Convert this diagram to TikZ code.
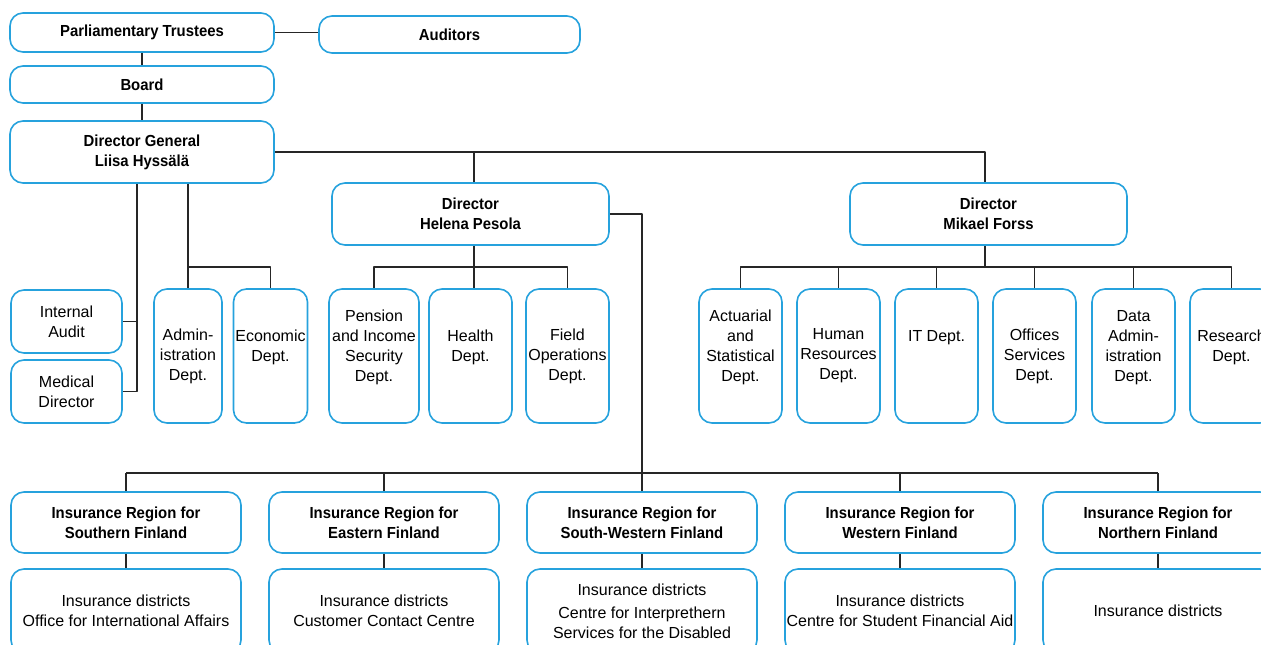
\documentclass[tikz,border=0pt]{standalone}
\usepackage{fontspec}
\setmainfont{Liberation Sans}[BoldFeatures={FakeStretch=0.93}]
\usetikzlibrary{positioning}

\definecolor{kelablue}{RGB}{38,162,221}

\tikzset{
    box/.style={draw=kelablue, line width=1.6pt, rounded corners=13pt, inner sep=0pt,
        align=center, text=black, font=\fontsize{16}{20}\selectfont},
    headbox/.style={box, font=\bfseries\fontsize{16}{20}\selectfont},
    dept/.style={box, minimum width=#1, minimum height=134pt},
    region/.style={headbox, minimum width=230pt, minimum height=61pt},
    district/.style={box, minimum width=230pt, minimum height=84pt},
    link/.style={draw=black!85, line width=1.1pt},
}

\begin{document}
\begin{tikzpicture}[x=1pt, y=-1pt, line join=round]

    \useasboundingbox (0,0) rectangle (1261,645);
    \clip (0,0) rectangle (1261,645);

    % top of the chart
    \node[headbox, minimum width=264pt, minimum height=39pt] (trustees) at (142,32.5) {Parliamentary Trustees};
    \node[headbox, minimum width=261pt, minimum height=37pt] (auditors) at (449.5,34.5) {Auditors};
    \node[headbox, minimum width=264pt, minimum height=37pt] (board) at (142,84.5) {Board};
    \node[headbox, minimum width=264pt, minimum height=62pt] (dg) at (142,152) {Director General\\Liisa Hyssälä};

    % the two directors
    \node[headbox, minimum width=277pt, minimum height=62pt] (pesola) at (470.5,214) {Director\\Helena Pesola};
    \node[headbox, minimum width=277pt, minimum height=62pt] (forss) at (988.5,214) {Director\\Mikael Forss};

    % staff units under the director general
    \node[box, minimum width=111pt, minimum height=63pt] (internal) at (66.5,321.5) {Internal\\Audit};
    \node[box, minimum width=111pt, minimum height=63pt] (medical) at (66.5,391.5) {Medical\\Director};
    \node[dept=68pt] (admin) at (188,356) {Admin-\\istration\\Dept.};
    \node[dept=74pt] (econ) at (270.5,356) {Economic\\Dept.\\\mbox{}};

    % departments of helena pesola
    \foreach \n/\x/\w/\t in {pension/374/90pt/{Pension\\and Income\\Security\\Dept.\\\mbox{}},
                             health/470.5/83pt/{Health\\Dept.\\\mbox{}},
                             field/567.5/83pt/{Field\\Operations\\Dept.}} {
        \node[dept=\w] (\n) at (\x,356) {\t};
    }

    % departments of mikael forss
    \foreach \n/\x/\t in {actuarial/740.5/{Actuarial\\and\\Statistical\\Dept.\\\mbox{}},
                          hr/838.5/{Human\\Resources\\Dept.},
                          it/936.5/{IT Dept.\\\mbox{}\\\mbox{}},
                          offices/1034.5/{Offices\\Services\\Dept.},
                          data/1133.5/{Data\\Admin-\\istration\\Dept.\\\mbox{}},
                          research/1231.5/{Research\\Dept.\\\mbox{}}} {
        \node[dept=83pt] (\n) at (\x,356) {\t};
    }

    % insurance regions and districts
    \foreach \n/\x/\r/\d in {south/126/{Southern Finland}/{Insurance districts\\Office for International Affairs},
                             east/384/{Eastern Finland}/{Insurance districts\\Customer Contact Centre},
                             southwest/642/{South-Western Finland}/{Insurance districts\\[3pt]Centre for Interprethern\\Services for the Disabled},
                             west/900/{Western Finland}/{Insurance districts\\Centre for Student Financial Aid},
                             north/1158/{Northern Finland}/{Insurance districts}} {
        \node[region] (reg\n) at (\x,522.5) {Insurance Region for\\\r};
        \node[district] (dist\n) at (\x,611) {\d};
        \draw[link] (reg\n) -- (dist\n);
    }

    % helper lines
    \coordinate (spine) at (137,0);
    \coordinate (pmid) at (474,0);
    \coordinate (fmid) at (985,0);
    \coordinate (bar) at (0,267);
    \coordinate (regbar) at (0,473);

    % connectors
    \draw[link] (trustees.east) -- (trustees.east -| auditors.west);
    \draw[link] (trustees) -- (board);
    \draw[link] (board) -- (dg);
    \draw[link] (dg.east) -| (forss.north -| fmid);
    \draw[link] (pesola.north -| pmid) -- (dg.east -| pmid);

    \draw[link] (dg.south -| spine) |- (medical.east);
    \draw[link] (internal.east) -- (internal.east -| spine);
    \draw[link] (dg.south -| admin) -- (admin.north);
    \draw[link] (admin.north |- bar) -| (econ.north);

    \draw[link] (pesola.south -| pmid) -- (health.north -| pmid);
    \draw[link] (pension.north) |- (field.north |- bar) -- (field.north);

    \draw[link] (forss.south -| fmid) -- (bar -| fmid);
    \draw[link] (actuarial.north) |- (research.north |- bar) -- (research.north);
    \foreach \n in {hr, it, offices, data} {
        \draw[link] (\n.north) -- (\n.north |- bar);
    }

    \draw[link] (pesola.east) -| (regsouthwest.north);
    \draw[link] (regsouth.north |- regbar) -- (regnorth.north |- regbar);
    \foreach \n in {south, east, west, north} {
        \draw[link] (reg\n.north) -- (reg\n.north |- regbar);
    }

\end{tikzpicture}
\end{document}
